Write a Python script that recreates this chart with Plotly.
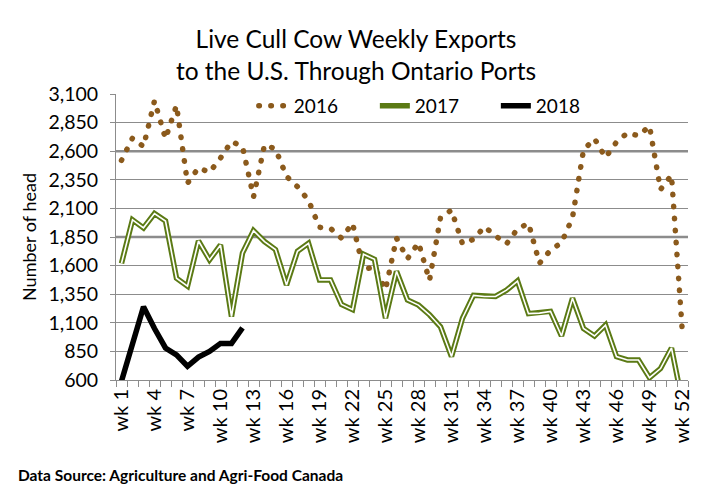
import plotly.graph_objects as go

weeks = [f"wk {i}" for i in range(1, 53)]
week_nums = list(range(1, 53))

y2016 = [2520, 2715, 2640, 3040, 2710, 3000, 2320, 2455, 2415, 2540, 2685, 2640, 2200,
         2655, 2620, 2380, 2290, 2170, 1935, 1925, 1840, 1970, 1570, 1585, 1390, 1840,
         1660, 1800, 1470, 2020, 2085, 1790, 1830, 1940, 1860, 1790, 1920, 1970, 1620,
         1735, 1800, 2020, 2610, 2710, 2545, 2680, 2760, 2735, 2820, 2265, 2390, 1000]

y2017 = [1620, 2000, 1930, 2055, 1990, 1490, 1420, 1815, 1650, 1780, 1155, 1710, 1905,
         1810, 1740, 1430, 1725, 1795, 1475, 1475, 1260, 1215, 1700, 1655, 1140, 1550,
         1300, 1255, 1170, 1065, 805, 1140, 1340, 1330, 1330, 1385, 1465, 1180, 1185,
         1200, 985, 1315, 1050, 985, 1080, 805, 775, 775, 620, 700, 880, 400]

y2018 = [590, 900, 1240, 1050, 880, 820, 720, 800, 850, 920, 920, 1055]

y_ticks = [600, 850, 1100, 1350, 1600, 1850, 2100, 2350, 2600, 2850, 3100]
emphasized_grid = [2600, 1850]

FONT = "Lato"
BROWN = "#8B5A1C"
OLIVE = "#5B7A14"
GRID = "#8C8C8C"

fig = go.Figure()

fig.add_trace(go.Scatter(
    x=week_nums, y=y2016, mode="lines", name="2016",
    line=dict(color=BROWN, width=5.5, dash="0.5px,11.5px"),
))
fig.add_trace(go.Scatter(
    x=week_nums, y=y2017, mode="lines", name="2017",
    line=dict(color=OLIVE, width=5.5),
))
fig.add_trace(go.Scatter(
    x=week_nums, y=y2017, mode="lines", name="2017 inner", showlegend=False,
    line=dict(color="white", width=1.6), hoverinfo="skip",
))
fig.add_trace(go.Scatter(
    x=week_nums[:len(y2018)], y=y2018, mode="lines", name="2018",
    line=dict(color="black", width=5.5),
))

for g in emphasized_grid:
    fig.add_shape(type="line", xref="paper", x0=0, x1=1, yref="y", y0=g, y1=g,
                  line=dict(color=GRID, width=2.5), layer="below")

tick_idx = list(range(0, 52, 3))

W, H = 707, 489

fig.update_layout(
    width=W, height=H,
    margin=dict(l=108, r=27, t=86, b=117),
    paper_bgcolor="white", plot_bgcolor="white",
    font=dict(family=FONT, size=20, color="#000000"),
    title=dict(
        text="Live Cull Cow Weekly Exports<br>to the U.S. Through Ontario Ports",
        x=348 / W, xref="container", xanchor="center",
        y=1 - 40 / H, yref="container", yanchor="middle",
        font=dict(family=FONT, size=24.5, color="#000000"),
    ),
    legend=dict(
        orientation="h", x=0.241, y=0.958, xanchor="left", yanchor="middle",
        entrywidth=76, entrywidthmode="pixels",
        bgcolor="rgba(0,0,0,0)", font=dict(family=FONT, size=19),
    ),
    showlegend=True,
    xaxis=dict(
        range=[0.5, 52.5],
        tickmode="array",
        tickvals=[week_nums[i] for i in tick_idx],
        ticktext=[weeks[i] for i in tick_idx],
        tickangle=-90,
        ticks="",
        minor=dict(ticks="outside", tick0=0.5, dtick=1, ticklen=6, tickcolor=GRID, showgrid=False),
        showgrid=False, zeroline=False,
        showline=True, linecolor=GRID, linewidth=1,
        tickfont=dict(family=FONT, size=20),
    ),
    yaxis=dict(
        range=[600, 3100],
        tickmode="array", tickvals=y_ticks,
        ticktext=[f"{v:,}" for v in y_ticks],
        ticks="outside", ticklen=5, tickcolor=GRID,
        showgrid=True, gridcolor=GRID, gridwidth=1,
        zeroline=False, showline=True, linecolor=GRID, linewidth=1,
        tickfont=dict(family=FONT, size=19.5),
        ticklabelstandoff=8,
        title=dict(text="Number of head", font=dict(family=FONT, size=18), standoff=7),
    ),
    annotations=[dict(
        text="<b>Data Source: Agriculture and Agri-Food Canada</b>",
        xref="paper", yref="paper", x=-0.175, y=-0.332,
        xanchor="left", yanchor="middle", showarrow=False,
        font=dict(family=FONT, size=15.5, color="#000000"),
    )],
)

post = """
var st = document.createElement('style');
st.innerHTML = '.scatterlayer .trace:nth-child(1) path.js-line, .legend .traces:nth-child(1) path.js-line { stroke-linecap: round !important; }';
document.head.appendChild(st);
"""

fig.write_html("out.html", post_script=post)
